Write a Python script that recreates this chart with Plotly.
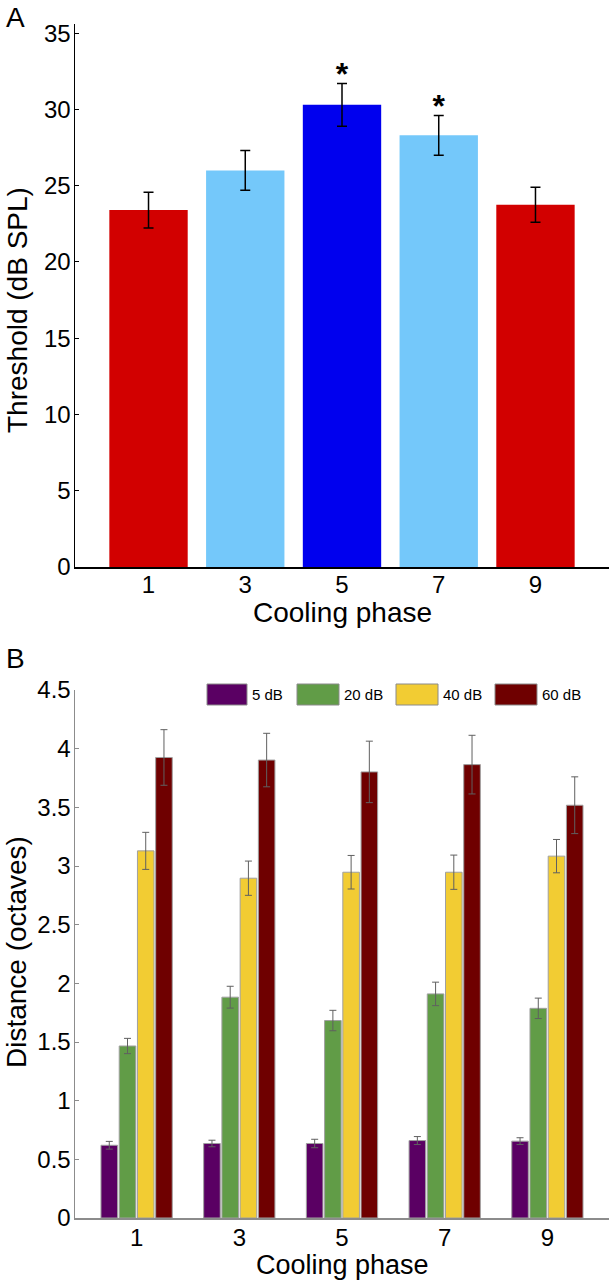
import plotly.graph_objects as go

# ---------------- data ----------------
phases = ["1", "3", "5", "7", "9"]

# Panel A: threshold (dB SPL)
threshold = [23.4, 26.0, 30.3, 28.3, 23.75]
threshold_err = [1.17, 1.3, 1.4, 1.3, 1.15]
threshold_colors = ["#d20000", "#74c8fa", "#0000ee", "#74c8fa", "#d20000"]
significant = [False, False, True, True, False]

# Panel B: distance (octaves) per sound level
levels = ["5 dB", "20 dB", "40 dB", "60 dB"]
dist_5 = [0.62, 0.635, 0.635, 0.66, 0.655]
err_5 = [0.033, 0.028, 0.036, 0.034, 0.029]
dist_20 = [1.466, 1.882, 1.683, 1.91, 1.787]
err_20 = [0.065, 0.093, 0.087, 0.10, 0.087]
dist_40 = [3.129, 2.896, 2.947, 2.947, 3.084]
err_40 = [0.158, 0.146, 0.143, 0.146, 0.142]
dist_60 = [3.925, 3.903, 3.802, 3.864, 3.518]
err_60 = [0.237, 0.228, 0.262, 0.25, 0.242]
level_colors = ["#5a0063", "#619c47", "#f2cc33", "#6f0000"]

W, H = 609, 1280
FONT = "Liberation Sans, Arial, Helvetica, sans-serif"


def px(x):
    return x / W


def py(y):
    return 1 - y / H


fig = go.Figure()

# ---------------- Panel A ----------------
fig.add_trace(go.Bar(
    x=phases, y=threshold, xaxis="x", yaxis="y",
    width=0.81,
    marker=dict(color=threshold_colors, line=dict(width=0)),
    error_y=dict(type="data", array=threshold_err, color="black",
                 thickness=1.5, width=5),
    showlegend=False, hoverinfo="skip",
))

star_x = [p for p, s in zip(phases, significant) if s]
star_y = [v + e + 0.4 for v, e, s in zip(threshold, threshold_err, significant) if s]
fig.add_trace(go.Scatter(
    x=star_x, y=star_y, xaxis="x", yaxis="y", mode="text",
    text=["<b>*</b>"] * len(star_x), textposition="middle center",
    textfont=dict(size=32, color="black", family=FONT),
    showlegend=False, hoverinfo="skip",
))

# ---------------- Panel B ----------------
series = [(dist_5, err_5), (dist_20, err_20), (dist_40, err_40), (dist_60, err_60)]
for name, (vals, errs), col in zip(levels, series, level_colors):
    fig.add_trace(go.Bar(
        x=phases, y=vals, name=name, xaxis="x2", yaxis="y2",
        marker=dict(color=col, line=dict(color="#a0a0a0", width=1)),
        error_y=dict(type="data", array=errs, color="#606060",
                     thickness=1, width=3.5),
        showlegend=False, hoverinfo="skip",
    ))

# custom legend (large swatches as in the reference)
legend_box_x = [(207, 247), (297, 339), (396, 438), (495, 537)]
shapes = []
annotations = []
for (x0, x1), col, name in zip(legend_box_x, level_colors, levels):
    shapes.append(dict(type="rect", xref="paper", yref="paper",
                       x0=px(x0), x1=px(x1), y0=py(705), y1=py(684),
                       fillcolor=col, line=dict(color="#8a8a8a", width=1)))
    annotations.append(dict(text=name, xref="paper", yref="paper",
                            x=px(x1 + 3), y=py(694.5), xanchor="left", yanchor="middle",
                            showarrow=False, font=dict(size=15, color="black", family=FONT)))

# panel letters and axis titles
annotations += [
    dict(text="A", xref="paper", yref="paper", x=px(4), y=py(18), xanchor="left",
         yanchor="middle", showarrow=False, font=dict(size=28, color="black", family=FONT)),
    dict(text="B", xref="paper", yref="paper", x=px(4), y=py(658), xanchor="left",
         yanchor="middle", showarrow=False, font=dict(size=28, color="black", family=FONT)),
    dict(text="Threshold (dB SPL)", xref="paper", yref="paper", x=px(17), y=py(310),
         xanchor="center", yanchor="middle", textangle=-90, showarrow=False,
         font=dict(size=28, color="black", family=FONT)),
    dict(text="Distance (octaves)", xref="paper", yref="paper", x=px(16), y=py(952),
         xanchor="center", yanchor="middle", textangle=-90, showarrow=False,
         font=dict(size=28, color="black", family=FONT)),
    dict(text="Cooling phase", xref="paper", yref="paper", x=px(342), y=py(612),
         xanchor="center", yanchor="middle", showarrow=False,
         font=dict(size=28, color="black", family=FONT)),
    dict(text="Cooling phase", xref="paper", yref="paper", x=px(342), y=py(1265),
         xanchor="center", yanchor="middle", showarrow=False,
         font=dict(size=27, color="black", family=FONT)),
]

tickfont = dict(size=24, color="black", family=FONT)

fig.update_layout(
    template="none",
    width=W, height=H,
    margin=dict(l=0, r=0, t=0, b=0, autoexpand=False),
    paper_bgcolor="white", plot_bgcolor="white",
    barmode="group", bargap=0.29, bargroupgap=0.09,
    showlegend=False,
    shapes=shapes, annotations=annotations,
    font=dict(family=FONT, color="black"),
    xaxis=dict(domain=[px(75), 1], anchor="y", type="category", automargin=False,
               range=[-0.76, 4.76], showgrid=False, zeroline=False,
               showline=True, linecolor="black", linewidth=1.5,
               ticks="", tickfont=tickfont, ticklabelstandoff=-4),
    yaxis=dict(domain=[py(567), py(24)], anchor="x", automargin=False, range=[0, 35.6],
               tickvals=[0, 5, 10, 15, 20, 25, 30, 35],
               showgrid=False, zeroline=False,
               showline=True, linecolor="black", linewidth=1.5,
               ticks="inside", ticklen=4, tickcolor="black", tickfont=tickfont,
               ticklabelstandoff=-2),
    xaxis2=dict(domain=[px(75), 1], anchor="y2", type="category", automargin=False,
                range=[-0.6, 4.6], showgrid=False, zeroline=False,
                showline=True, linecolor="#8c8c8c", linewidth=1.5,
                ticks="", tickfont=tickfont, ticklabelstandoff=-2),
    yaxis2=dict(domain=[py(1218), py(690)], anchor="x2", automargin=False, range=[0, 4.5],
                tickvals=[0, 0.5, 1, 1.5, 2, 2.5, 3, 3.5, 4, 4.5],
                ticktext=["0", "0.5", "1", "1.5", "2", "2.5", "3", "3.5", "4", "4.5"],
                showgrid=False, zeroline=False,
                showline=True, linecolor="#8c8c8c", linewidth=1.5,
                ticks="inside", ticklen=4, tickcolor="#8c8c8c", tickfont=tickfont,
                ticklabelstandoff=-2),
)

fig.write_html(
    "out.html",
    config={"displayModeBar": False, "staticPlot": True},
    post_script="document.body.style.margin='0';document.body.style.overflow='hidden';",
)
